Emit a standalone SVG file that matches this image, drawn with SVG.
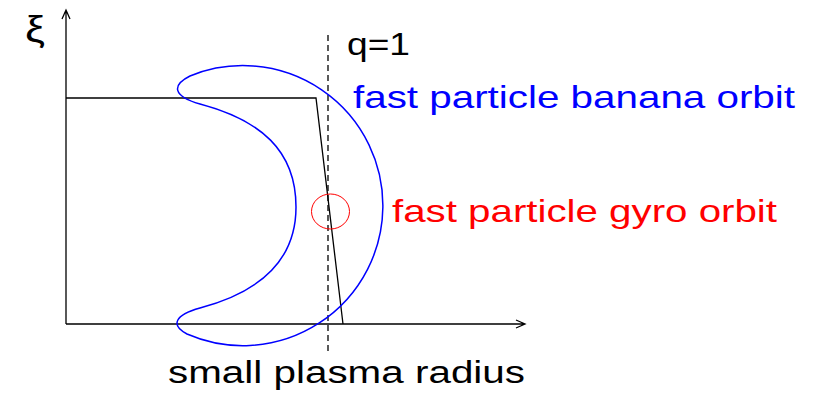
<svg xmlns="http://www.w3.org/2000/svg" width="818" height="393" viewBox="0 0 818 393">
<style>
.ln{fill:none;stroke:#000;stroke-width:1.3}
.t{font-family:"Liberation Sans",Arial,sans-serif}
</style>
<rect width="818" height="393" fill="#fff"/>
<g id="axes">
<path class="ln" d="M66,324 V11 M62,19 L66,10 L70,19"/>
<path class="ln" d="M66,324 H524 M516,320 L525,324 L516,328"/>
<text class="t" x="25" y="42" font-size="36" textLength="20" lengthAdjust="spacingAndGlyphs">ξ</text>
</g>
<g id="profile">
<path class="ln" d="M66,98 H316 L343,324"/>
</g>
<g id="q1">
<line x1="328" y1="35" x2="328" y2="352" stroke="#000" stroke-width="1.3" stroke-dasharray="6,4"/>
<text class="t" x="347" y="55" font-size="31" textLength="63" lengthAdjust="spacingAndGlyphs">q=1</text>
</g>
<g id="banana">
<path d="M296,207 C296,150 260,120 200,104 C172,96 172,85 190,76 A140,140 0 1 1 187,334 C170,325 175,315 200,308 C260,292 296,260 296,207 Z" fill="none" stroke="#0000ff" stroke-width="1.5"/>
<text class="t" x="353" y="108" font-size="32" fill="#0000ff" textLength="442" lengthAdjust="spacingAndGlyphs">fast particle banana orbit</text>
</g>
<g id="gyro">
<ellipse cx="330.5" cy="211.5" rx="19" ry="17.5" fill="none" stroke="#ff0000" stroke-width="1"/>
<text class="t" x="392" y="222" font-size="32" fill="#ff0000" textLength="385" lengthAdjust="spacingAndGlyphs">fast particle gyro orbit</text>
</g>
<g id="xlabel">
<text class="t" x="168" y="383" font-size="31" textLength="357" lengthAdjust="spacingAndGlyphs">small plasma radius</text>
</g>
</svg>
